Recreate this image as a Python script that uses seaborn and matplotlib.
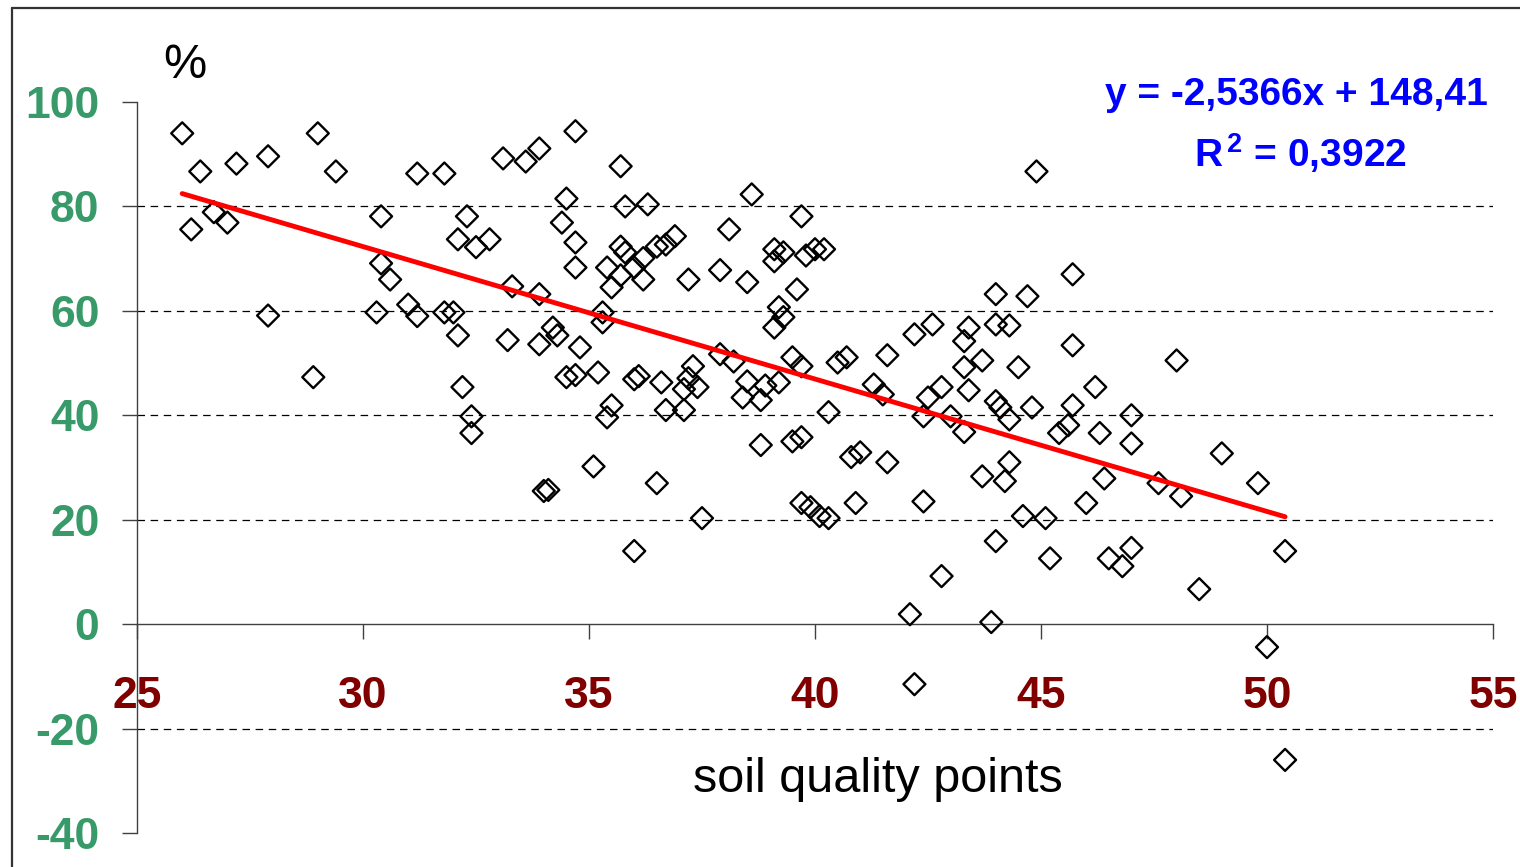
import numpy as np
import pandas as pd
import matplotlib
matplotlib.use("Agg")
import matplotlib.pyplot as plt
from matplotlib.lines import Line2D
import seaborn as sns

# ---- data ----
soil_points = [
    26.0, 26.4, 26.2, 26.7, 27.0, 27.2, 27.9, 27.9, 28.9, 29.0,
    29.4, 30.4, 30.3, 30.4, 30.6, 31.0, 31.2, 31.2, 31.8, 31.8,
    32.0, 32.1, 32.1, 32.3, 32.2, 32.4, 32.4, 32.5, 32.8, 33.2,
    33.1, 33.3, 33.6, 33.9, 33.9, 33.9, 34.0, 34.1, 34.2, 34.3,
    34.4, 34.5, 34.7, 34.7, 34.7, 34.5, 34.7, 34.8, 35.1, 35.2,
    35.3, 35.3, 35.4, 35.4, 35.5, 35.5, 35.7, 35.7, 35.7, 35.8,
    35.8, 36.0, 36.1, 36.0, 36.0, 36.2, 36.2, 36.3, 36.5, 36.6,
    36.5, 36.7, 36.7, 36.9, 37.1, 37.1, 37.2, 37.2, 37.3, 37.4,
    37.5, 37.9, 37.9, 38.1, 38.2, 38.4, 38.5, 38.6, 38.5, 38.9,
    38.8, 38.8, 39.1, 39.1, 39.1, 39.2, 39.3, 39.2, 39.3, 39.5,
    39.6, 39.5, 39.7, 39.7, 39.7, 39.7, 39.8, 39.9, 40.0, 40.1,
    40.2, 40.3, 40.3, 40.5, 40.7, 40.8, 41.0, 40.9, 41.3, 41.5,
    41.6, 41.6, 42.1, 42.2, 42.2, 42.4, 42.5, 42.4, 42.6, 42.8,
    42.8, 43.0, 43.3, 43.3, 43.3, 43.4, 43.4, 43.7, 43.7, 43.9,
    44.0, 44.0, 44.0, 44.0, 44.1, 44.2, 44.3, 44.3, 44.3, 44.5,
    44.6, 44.7, 44.8, 44.9, 45.1, 45.2, 45.4, 45.6, 45.7, 45.7,
    45.7, 46.0, 46.2, 46.3, 46.4, 46.5, 46.8, 47.0, 47.0, 47.0,
    47.6, 48.0, 48.1, 48.5, 49.0, 49.8, 50.0, 50.4, 50.4,
]
percent = [
    94.0, 86.7, 75.6, 78.9, 76.9, 88.2, 89.6, 59.1, 47.3, 94.0,
    86.7, 78.1, 59.7, 69.1, 66.0, 61.2, 59.0, 86.3, 86.3, 59.7,
    59.7, 73.7, 55.3, 78.1, 45.4, 39.8, 36.6, 72.2, 73.7, 54.4,
    89.2, 64.7, 88.6, 91.1, 63.2, 53.6, 25.5, 25.7, 56.8, 55.3,
    76.9, 81.5, 94.4, 73.1, 68.3, 47.3, 47.7, 53.0, 30.2, 48.2,
    57.8, 59.7, 68.3, 39.6, 41.9, 64.5, 87.7, 72.3, 66.8, 80.0,
    71.2, 46.9, 47.5, 14.0, 68.3, 66.0, 70.1, 80.4, 72.3, 46.3,
    27.0, 72.7, 41.0, 74.3, 41.0, 45.0, 47.1, 66.0, 49.4, 45.4,
    20.3, 67.8, 51.7, 75.6, 50.3, 43.4, 65.5, 82.3, 46.5, 45.7,
    42.9, 34.3, 71.8, 69.5, 56.8, 60.7, 58.8, 46.3, 71.2, 51.1,
    64.1, 35.0, 35.8, 78.1, 49.4, 23.2, 70.6, 22.4, 71.8, 20.7,
    71.8, 20.3, 40.6, 50.1, 51.1, 32.0, 32.9, 23.2, 45.9, 44.0,
    51.5, 31.0, 1.9, -11.5, 55.5, 39.8, 43.4, 23.5, 57.4, 9.2,
    45.4, 39.8, 36.8, 49.2, 54.2, 56.8, 44.8, 50.5, 28.3, 0.4,
    15.9, 63.2, 57.4, 42.7, 41.5, 27.4, 39.2, 31.0, 57.2, 49.2,
    20.7, 62.8, 41.5, 86.7, 20.3, 12.6, 36.6, 38.1, 67.0, 41.9,
    53.4, 23.2, 45.4, 36.6, 27.9, 12.6, 11.1, 14.6, 40.0, 34.6,
    27.0, 50.5, 24.5, 6.7, 32.7, 27.0, -4.4, 14.0, -26.0,
]
trend_slope = -2.5366
trend_intercept = 148.41
r_squared = "0,3922"
x_ticks = [25, 30, 35, 40, 45, 50, 55]
y_ticks = [-40, -20, 0, 20, 40, 60, 80, 100]
grid_levels = [-20, 20, 40, 60, 80]
x_label = "soil quality points"
y_label = "%"

df = pd.DataFrame({"soil": soil_points, "pct": percent})
x_line = np.linspace(min(soil_points), max(soil_points), 50)
line_df = pd.DataFrame({"soil": x_line, "pct": trend_slope * x_line + trend_intercept})

# ---- style ----
sns.set_theme(style="white")
plt.rcParams["font.family"] = ["Liberation Sans", "DejaVu Sans"]
plt.rcParams["axes.unicode_minus"] = False
plt.rcParams["mathtext.fontset"] = "custom"
plt.rcParams["mathtext.rm"] = "Liberation Sans:bold"
plt.rcParams["mathtext.bf"] = "Liberation Sans:bold"

fig = plt.figure(figsize=(15.2, 8.67), dpi=100)
ax = fig.add_axes([137 / 1520, 1 - 833 / 867, (1493 - 137) / 1520, (833 - 102) / 867])
ax.set_facecolor("white")

for g in grid_levels:
    ax.axhline(g, color="black", lw=0.9, ls=(0, (6, 4.5)), zorder=1)

sns.scatterplot(data=df, x="soil", y="pct", ax=ax, marker="D", s=125,
                facecolor="none", edgecolor="black", linewidth=1.7, zorder=3)
ax.collections[0].set_facecolor("none")
ax.collections[0].set_edgecolor("black")

sns.lineplot(data=line_df, x="soil", y="pct", ax=ax, color="#FF0000", lw=3.5, zorder=4)

ax.set_xlim(25, 55)
ax.set_ylim(-40, 100)
ax.set_xticks(x_ticks)
ax.set_yticks(y_ticks)
ax.set_xlabel("")
ax.set_ylabel("")

for s in ["top", "right"]:
    ax.spines[s].set_visible(False)
ax.spines["bottom"].set_position(("data", 0))
for s in ["left", "bottom"]:
    ax.spines[s].set_color("#404040")
    ax.spines[s].set_linewidth(1.0)

ax.tick_params(axis="x", direction="out", length=11, width=1, color="#404040",
               pad=26, labelsize=32, labelcolor="#800000")
ax.tick_params(axis="y", direction="out", length=11, width=1, color="#404040",
               pad=16, labelsize=32, labelcolor="#389A69")
ax.tick_params(left=True, bottom=True)
for lab in ax.get_xticklabels() + ax.get_yticklabels():
    lab.set_fontweight("bold")

fig.text(185 / 1520, 1 - 66 / 867, y_label, ha="center", va="center",
         fontsize=35, color="black")
fig.text(878 / 1520, 1 - 792 / 867, x_label, ha="center", va="baseline",
         fontsize=35, color="black")

fig.text(1296 / 1520, 1 - 105 / 867,
         f"y = {str(trend_slope).replace('.', ',')}x + {str(trend_intercept).replace('.', ',')}",
         ha="center", va="baseline", fontsize=28, fontweight="bold", color="#0000FF")
fig.text(1300 / 1520, 1 - 167 / 867, r"R$^{\,\mathbf{2}}$ = " + r_squared,
         ha="center", va="baseline", fontsize=28, fontweight="bold", color="#0000FF")

# outer frame
fig.add_artist(Line2D([12 / 1520, 12 / 1520], [0, 1 - 8 / 867], transform=fig.transFigure,
                      color="#333333", lw=1.6))
fig.add_artist(Line2D([12 / 1520, 1], [1 - 8 / 867, 1 - 8 / 867], transform=fig.transFigure,
                      color="#333333", lw=1.6))

fig.savefig("out.png", dpi=100, facecolor="white")
